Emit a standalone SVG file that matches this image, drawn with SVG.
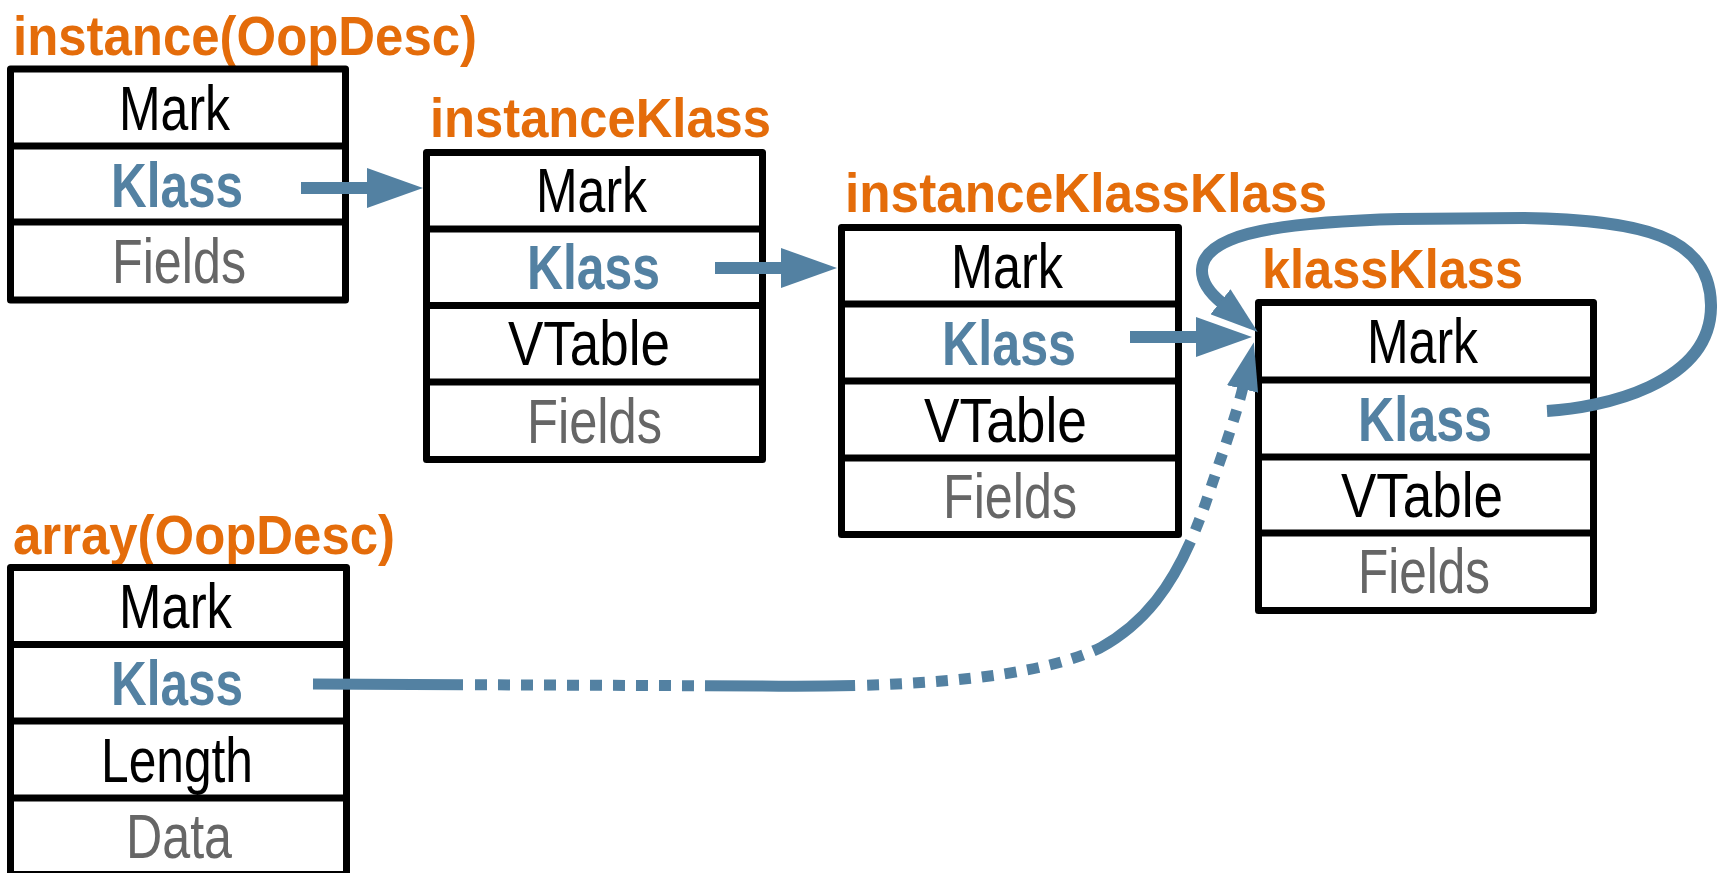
<svg xmlns="http://www.w3.org/2000/svg" width="1717" height="873" viewBox="0 0 1717 873">
<style>
.box{fill:#fff;stroke:#000;stroke-width:7;stroke-linejoin:round}
.div{stroke:#000;stroke-width:7}
.title{font-family:"Liberation Sans",Arial,sans-serif;font-weight:bold;font-size:56px;fill:#E46C0A}
.t{font-family:"Liberation Sans",Arial,sans-serif;font-size:63px;fill:#000}
.k{font-weight:bold;fill:#5381A2}
.g{fill:#666}
.conn{fill:none;stroke:#5381A2;stroke-width:12}
</style>
<defs>
<marker id="head" markerUnits="userSpaceOnUse" viewBox="0 0 56 40" markerWidth="56" markerHeight="40" refX="2" refY="20" orient="auto">
<path d="M0,0 L56,20 L0,40 z" fill="#5381A2"/>
</marker>
<marker id="head2" markerUnits="userSpaceOnUse" viewBox="0 0 48 32" markerWidth="48" markerHeight="32" refX="2" refY="16" orient="auto">
<path d="M0,0 L48,16 L0,32 z" fill="#5381A2"/>
</marker>
</defs>

<g id="instance">
<text class="title" x="13" y="55" textLength="464" lengthAdjust="spacingAndGlyphs">instance(OopDesc)</text>
<rect class="box" x="10.5" y="69" width="335" height="231"/>
<line class="div" x1="10.5" y1="146" x2="345.5" y2="146"/>
<line class="div" x1="10.5" y1="222" x2="345.5" y2="222"/>
<text class="t" x="119" y="130" textLength="111" lengthAdjust="spacingAndGlyphs">Mark</text>
<text class="t k" x="111" y="207" textLength="132" lengthAdjust="spacingAndGlyphs">Klass</text>
<text class="t g" x="112" y="283" textLength="134" lengthAdjust="spacingAndGlyphs">Fields</text>
</g>

<g id="instanceKlass">
<text class="title" x="430" y="137" textLength="341" lengthAdjust="spacingAndGlyphs">instanceKlass</text>
<rect class="box" x="426.5" y="152.5" width="336" height="307"/>
<line class="div" x1="426.5" y1="229" x2="762.5" y2="229"/>
<line class="div" x1="426.5" y1="305.5" x2="762.5" y2="305.5"/>
<line class="div" x1="426.5" y1="382" x2="762.5" y2="382"/>
<text class="t" x="536" y="212" textLength="111" lengthAdjust="spacingAndGlyphs">Mark</text>
<text class="t k" x="527" y="289" textLength="133" lengthAdjust="spacingAndGlyphs">Klass</text>
<text class="t" x="508" y="365" textLength="162" lengthAdjust="spacingAndGlyphs">VTable</text>
<text class="t g" x="527" y="443" textLength="135" lengthAdjust="spacingAndGlyphs">Fields</text>
</g>

<g id="instanceKlassKlass">
<text class="title" x="845" y="212" textLength="482" lengthAdjust="spacingAndGlyphs">instanceKlassKlass</text>
<rect class="box" x="841.5" y="227.5" width="337" height="307"/>
<line class="div" x1="841.5" y1="304" x2="1178.5" y2="304"/>
<line class="div" x1="841.5" y1="381" x2="1178.5" y2="381"/>
<line class="div" x1="841.5" y1="458" x2="1178.5" y2="458"/>
<text class="t" x="951" y="288" textLength="112" lengthAdjust="spacingAndGlyphs">Mark</text>
<text class="t k" x="942" y="365" textLength="134" lengthAdjust="spacingAndGlyphs">Klass</text>
<text class="t" x="924" y="442" textLength="163" lengthAdjust="spacingAndGlyphs">VTable</text>
<text class="t g" x="943" y="518" textLength="134" lengthAdjust="spacingAndGlyphs">Fields</text>
</g>

<g id="klassKlass">
<text class="title" x="1262" y="288" textLength="261" lengthAdjust="spacingAndGlyphs">klassKlass</text>
<rect class="box" x="1258.5" y="302.5" width="335" height="308"/>
<line class="div" x1="1258.5" y1="380" x2="1593.5" y2="380"/>
<line class="div" x1="1258.5" y1="457" x2="1593.5" y2="457"/>
<line class="div" x1="1258.5" y1="533" x2="1593.5" y2="533"/>
<text class="t" x="1367" y="363" textLength="111" lengthAdjust="spacingAndGlyphs">Mark</text>
<text class="t k" x="1358" y="441" textLength="134" lengthAdjust="spacingAndGlyphs">Klass</text>
<text class="t" x="1341" y="517" textLength="162" lengthAdjust="spacingAndGlyphs">VTable</text>
<text class="t g" x="1358" y="593" textLength="132" lengthAdjust="spacingAndGlyphs">Fields</text>
</g>

<g id="array">
<text class="title" x="13" y="554" textLength="382" lengthAdjust="spacingAndGlyphs">array(OopDesc)</text>
<rect class="box" x="10.5" y="567.5" width="336" height="307"/>
<line class="div" x1="10.5" y1="644.5" x2="346.5" y2="644.5"/>
<line class="div" x1="10.5" y1="721" x2="346.5" y2="721"/>
<line class="div" x1="10.5" y1="798" x2="346.5" y2="798"/>
<text class="t" x="119" y="628" textLength="113" lengthAdjust="spacingAndGlyphs">Mark</text>
<text class="t k" x="111" y="705" textLength="132" lengthAdjust="spacingAndGlyphs">Klass</text>
<text class="t" x="101" y="782" textLength="152" lengthAdjust="spacingAndGlyphs">Length</text>
<text class="t g" x="126" y="858" textLength="106" lengthAdjust="spacingAndGlyphs">Data</text>
</g>

<g id="connectors">
<path class="conn" d="M301,188 L369,188" marker-end="url(#head)"/>
<path class="conn" d="M715,268 L783,268" marker-end="url(#head)"/>
<path class="conn" d="M1130,337 L1198,337" marker-end="url(#head)"/>
<path class="conn" d="M1547,411 C1600,408 1712,385 1711,305 C1710,235 1640,220 1523,218 L1400,219 C1320,221 1260,227 1230,240 C1192,256 1196,282 1222,303" marker-end="url(#head2)"/>
<path class="conn" style="stroke-width:11" stroke-dasharray="150 12 12 11 12 11 12 11 12 11 12 11 12 11 12 11 12 11 12 11 12 11" d="M313,684 L760,686 C930,688 1040,676 1100,648 C1160,615 1185,560 1205,505 C1220,460 1235,420 1243,387" marker-end="url(#head2)"/>
</g>
</svg>
